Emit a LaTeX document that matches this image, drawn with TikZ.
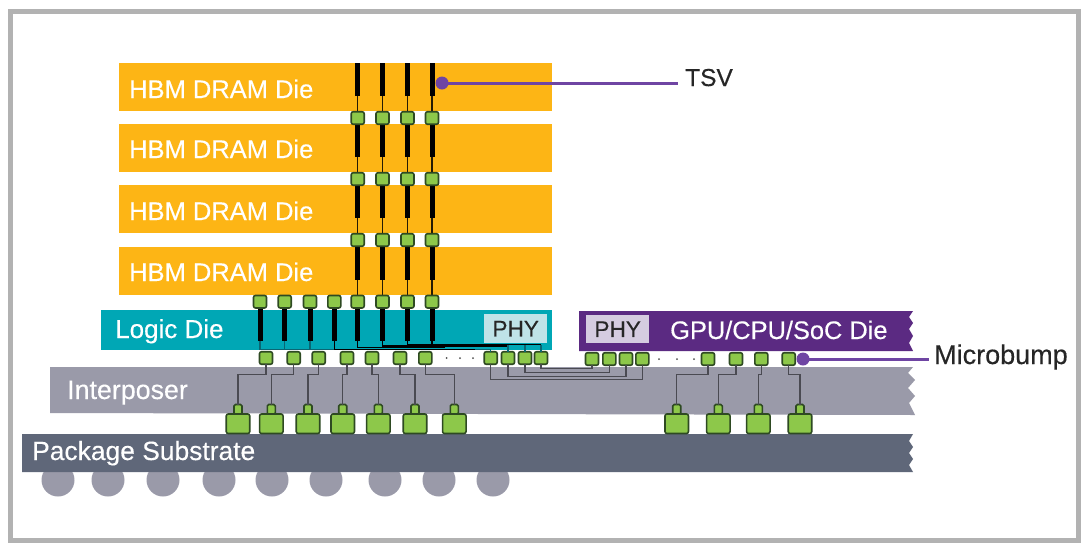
\documentclass[tikz,border=0pt]{standalone}
\usepackage{fontspec}
\setmainfont{Liberation Sans}[FakeBold=0.3]
\definecolor{hbm}{HTML}{FDB515}
\definecolor{logic}{HTML}{00A7B5}
\definecolor{phylogic}{HTML}{BFE3E8}
\definecolor{soc}{HTML}{5B2A82}
\definecolor{physoc}{HTML}{D5CCE0}
\definecolor{inter}{HTML}{9A9AA9}
\definecolor{subst}{HTML}{5F6779}
\definecolor{bumpfill}{HTML}{8DC84A}
\definecolor{bumpline}{HTML}{2E4A22}
\definecolor{wirecol}{HTML}{4A4A52}
\definecolor{callout}{HTML}{6F45A3}
\definecolor{tealwire}{HTML}{0A6673}
\tikzset{
  bumpbase/.style={draw=bumpline,fill=bumpfill,rounded corners=2pt,line width=1.6pt,inner sep=0pt,outer sep=0pt},
  ubump/.style={bumpbase,minimum width=13pt,minimum height=12.5pt},
  neckbump/.style={bumpbase,minimum width=8pt,minimum height=10pt,rounded corners=1.5pt},
  bigbump/.style={bumpbase,minimum width=23.5pt,minimum height=19.5pt,anchor=north},
  tsvbar/.style={fill=black,inner sep=0pt,outer sep=0pt,minimum width=5pt,minimum height=33pt,anchor=north},
  hbmdie/.style={fill=hbm,inner sep=0pt,outer sep=0pt,minimum width=433pt,minimum height=48pt,anchor=north west},
  dietext/.style={text=white,font=\fontsize{26}{30}\selectfont,inner sep=0pt,anchor=base west},
  phytext/.style={font=\fontsize{22.6}{26}\selectfont,text=black!85,inner sep=0pt,anchor=center},
  wire/.style={draw=wirecol,line width=1.4pt},
  thinwire/.style={draw=black!85!hbm,line width=1.4pt},
  calloutline/.style={draw=callout,line width=3pt},
  calloutdot/.style={fill=callout,circle,inner sep=0pt,minimum size=13pt},
  labeltext/.style={text=black!85,anchor=base west,inner ysep=0pt},
  ball/.style={fill=inter,circle,inner sep=0pt,minimum size=33pt},
  tinydot/.style={fill=black!70,circle,inner sep=0pt,minimum size=2pt}
}
\begin{document}
\begin{tikzpicture}[x=1pt,y=-1pt]
\useasboundingbox (0,0) rectangle (1081,542);
\fill[white] (0,0) rectangle (1081,542);
\draw[draw=black!30,line width=5pt] (10.5,11.5) rectangle (1078.5,540.5);

% solder balls
\foreach \n/\x in {1/58,2/108,3/163,4/219,5/272,6/326,7/385,8/439,9/493}
  \node[ball] (ball\n) at (\x,480) {};

% interposer and substrate, GPU die with jagged right edges
\fill[inter] (50,367) -- (913,367) -- (908,373) -- (915,380) -- (908,388) -- (915,396) -- (909,403) -- (915,415) -- (50,413) -- cycle;
\fill[subst] (22,434) -- (913,434) -- (909,441) -- (913,447) -- (909,453) -- (913,459) -- (909,465) -- (913,472) -- (22,472) -- cycle;
\fill[soc] (579,311) -- (913,311) -- (909,317) -- (913,323) -- (909,329) -- (913,336) -- (909,343) -- (913,351) -- (579,351) -- cycle;

% HBM dies
\node[hbmdie] (die1) at (119,63) {};
\node[hbmdie] (die2) at (119,124) {};
\node[hbmdie] (die3) at (119,185) {};
\node[hbmdie] (die4) at (119,247) {};
% logic die
\node[fill=logic,inner sep=0pt,minimum width=451pt,minimum height=40pt,anchor=north west] (logicdie) at (101,310) {};
\node[fill=phylogic,inner sep=0pt,minimum width=63pt,minimum height=29pt,anchor=north west] (phyA) at (484,314) {};
\node[fill=physoc,inner sep=0pt,minimum width=63pt,minimum height=28pt,anchor=north west] (phyB) at (586,315) {};
\node[phytext] (phyAt) at (phyA.center) {PHY};
\node[phytext] (phyBt) at (phyB.center) {PHY};

% texts on dies
\foreach \n/\y in {1/98,2/158,3/220,4/281}
  \node[dietext,font=\fontsize{25.5}{30}\selectfont] (dl\n) at (129,\y) {HBM DRAM Die};
\node[dietext] (ll) at (115,338) {Logic Die};
\node[dietext,font=\fontsize{25.4}{30}\selectfont] (gl) at (670,339) {GPU/CPU/SoC Die};
\node[dietext,font=\fontsize{26.8}{30}\selectfont] (il) at (67,399) {Interposer};
\node[dietext,font=\fontsize{26.4}{30}\selectfont] (sl) at (32,460) {Package Substrate};

% TSV stacks in HBM dies
\foreach \c/\x in {1/357.7,2/382.5,3/407.5,4/432}{
  \node[tsvbar] (ta\c) at (\x,63) {};
  \node[tsvbar] (tb\c) at (\x,124) {};
  \node[tsvbar] (tc\c) at (\x,185) {};
  \node[tsvbar] (td\c) at (\x,247) {};
  \node[tsvbar] (te\c) at (\x,308) {};
  \draw[thinwire] (ta\c.south) -- (\x,112);
  \draw[thinwire] (tb\c.south) -- (\x,173);
  \draw[thinwire] (tc\c.south) -- (\x,234);
  \draw[thinwire] (td\c.south) -- (\x,295);
  \node[ubump] (ba\c) at (\x,118) {};
  \node[ubump] (bb\c) at (\x,179) {};
  \node[ubump] (bc\c) at (\x,240) {};
  \node[ubump] (bd\c) at (\x,301.7) {};
}
% four extra TSVs of the logic die
\foreach \c/\x in {5/260,6/284.7,7/310,8/334.3}{
  \node[tsvbar] (te\c) at (\x,308) {};
  \node[ubump] (bd\c) at (\x,301.7) {};
}

% microbumps below the logic die
\foreach \n/\x in {1/266,2/293.7,3/318.7,4/347,5/372,6/400,7/425.3}
  \node[ubump] (ml\n) at (\x,358) {};
\foreach \n/\x in {1/490.7,2/508,3/525,4/541}
  \node[ubump] (pl\n) at (\x,358) {};
\foreach \n/\x in {1/592,2/609.3,3/626,4/642.3}
  \node[ubump] (pr\n) at (\x,359) {};
\foreach \n/\x in {1/708,2/736,3/761.3,4/788.7}
  \node[ubump] (mr\n) at (\x,359) {};
\foreach \n/\x in {1/446.7,2/460,3/473}
  \node[tinydot] (da\n) at (\x,358) {};
\foreach \n/\x in {1/659,2/677,3/694}
  \node[tinydot] (db\n) at (\x,359) {};

% C4 bumps
\foreach \n/\x in {1/238,2/271.3,3/308,4/342.7,5/378.3,6/415,7/454.3,8/676.7,9/718.3,10/758.3,11/800}{
  \node[neckbump] (cn\n) at (\x,409.5) {};
  \node[bigbump] (cb\n) at (\x,414) {};
}

% interposer wires
\foreach \a/\b in {ml1/cn1,ml2/cn2,ml3/cn3,ml4/cn4,ml5/cn5,ml6/cn6,ml7/cn7,mr1/cn8,mr2/cn9,mr3/cn10,mr4/cn11}
  \draw[wire] (\a.south) |- ([yshift=30pt]\b.north) -- (\b.north);
\draw[wire] (pl1.south) -- ++(0,15) -| (pr4.south);
\draw[wire] (pl2.south) -- ++(0,12) -| (pr3.south);
\draw[wire] (pl3.south) -- ++(0,8) -| (pr2.south);
\draw[wire] (pl4.south) -- ++(0,4) -| (pr1.south);

% logic die wires from TSVs to PHY bumps
\coordinate (busend) at (475,349.3);
\foreach \c in {5,6,7}
  \draw[draw=tealwire,line width=1.2pt] (te\c.south) |- (te8.south |- busend);
\draw[draw=black,line width=1.3pt] (te8.south) |- (busend);
\draw[draw=tealwire,line width=1.1pt] (busend) -| (pl1.north);
\draw[draw=black,line width=1.1pt] (te1.south) |- ([xshift=-30pt,yshift=1.6pt]busend);
\draw[draw=black,line width=1.1pt] (te2.south) |- (pl2.north |- 0,346);
\draw[draw=black,line width=1.1pt] (te3.south) |- (pl3.north |- 0,344.5);
\draw[draw=black,line width=1.1pt] (te4.south) |- (pl4.north |- 0,344.5);
\foreach \c in {2,3,4}
  \draw[draw=tealwire,line width=1.1pt] (pl\c.north) -- (pl\c.north |- 0,344.5);

% call-outs
\node[labeltext,inner xsep=7pt,font=\fontsize{24.5}{30}\selectfont] (tsvlabel) at (678,86) {TSV};
\node[calloutdot] (tsvdot) at (442,83) {};
\draw[calloutline] (tsvdot.center) -- (tsvlabel.west |- tsvdot);
\node[labeltext,inner xsep=5pt,font=\fontsize{27}{30}\selectfont] (ublabel) at (929,364) {Microbump};
\node[calloutdot] (ubdot) at (803,359) {};
\draw[calloutline] (ubdot.center) -- (ublabel.west |- ubdot);
\end{tikzpicture}
\end{document}
